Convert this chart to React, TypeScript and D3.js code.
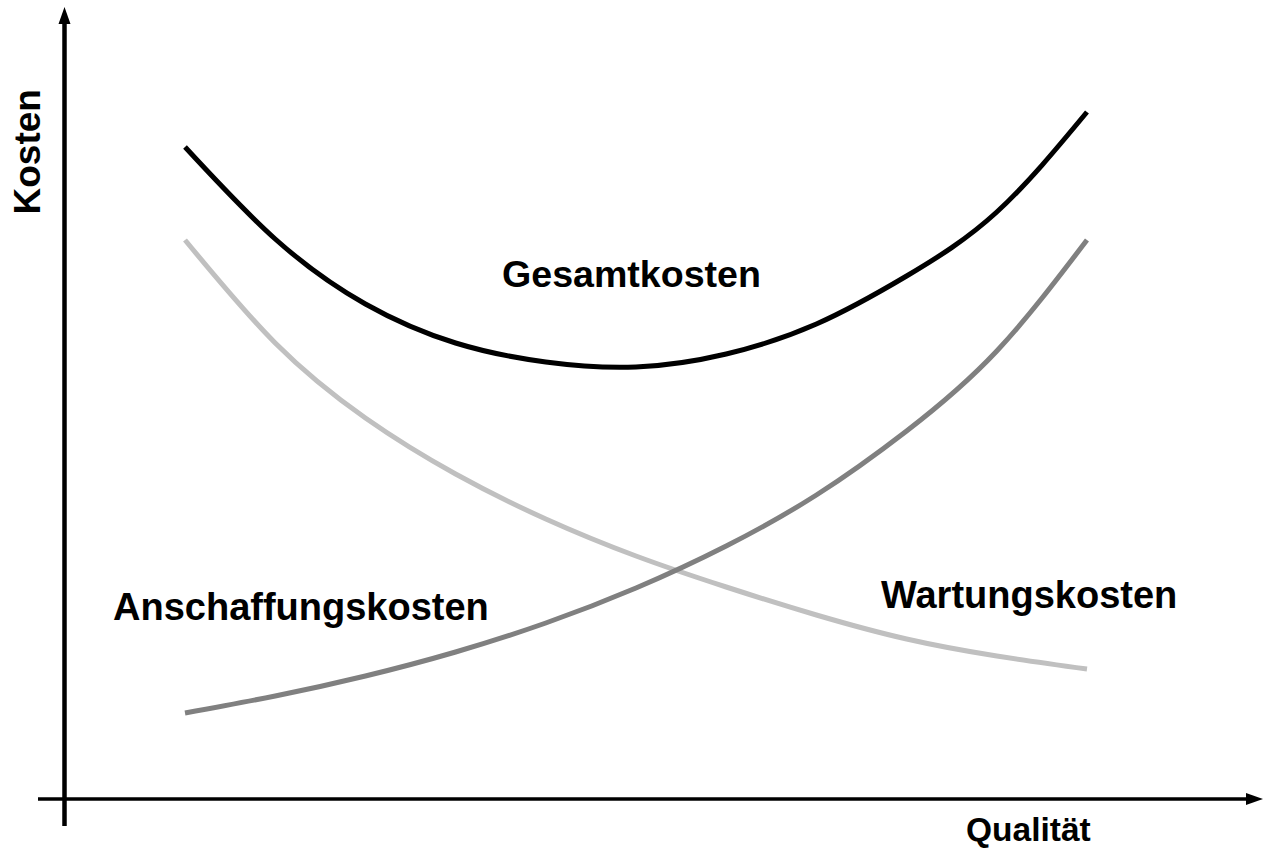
import React from "react";
import * as d3 from "d3";

const quality = [0, 1, 2, 3, 4, 5, 6, 7, 8, 9, 10];
const gesamtkosten = [65.2, 56.0, 49.5, 45.6, 43.7, 43.2, 44.5, 47.5, 52.3, 58.7, 68.7];
const wartungskosten = [55.9, 45.6, 38.1, 32.5, 28.0, 24.3, 21.2, 18.4, 16.0, 14.3, 13.0];
const anschaffungskosten = [8.6, 10.3, 12.3, 14.7, 17.6, 21.1, 25.3, 30.4, 36.8, 44.8, 55.9];

const seriesLabels = ["Gesamtkosten", "Anschaffungskosten", "Wartungskosten"];
const xAxisLabel = "Qualität";
const yAxisLabel = "Kosten";

export default function App() {
  const W = 1270;
  const H = 855;
  const x = d3.scaleLinear().domain([0, 10]).range([185, 1087]);
  const y = d3.scaleLinear().domain([0, 79.9]).range([799, 0]);

  const line = d3
    .line<number>()
    .x((_, i) => x(quality[i]))
    .y((d) => y(d))
    .curve(d3.curveNatural);

  const axisX0 = 64.5;
  const axisY0 = y(0);
  const font = "'Liberation Sans', Arial, sans-serif";

  return (
    <svg
      width={W}
      height={H}
      style={{ position: "absolute", left: 0, top: 0, background: "#fff" }}
      fontFamily={font}
    >
      <rect x={0} y={0} width={W} height={H} fill="#fff" />
      {/* axes */}
      <line x1={axisX0} y1={826} x2={axisX0} y2={20} stroke="#000" strokeWidth={4.5} />
      <path d={`M${axisX0 - 6},24 L${axisX0},7 L${axisX0 + 6},24 Z`} fill="#000" />
      <line x1={38} y1={axisY0} x2={1250} y2={axisY0} stroke="#000" strokeWidth={3.5} />
      <path d={`M1246,${axisY0 - 6} L1263,${axisY0} L1246,${axisY0 + 6} Z`} fill="#000" />

      {/* curves */}
      <path d={line(wartungskosten) || ""} fill="none" stroke="#c0c0c0" strokeWidth={5} />
      <path d={line(anschaffungskosten) || ""} fill="none" stroke="#808080" strokeWidth={5} />
      <path d={line(gesamtkosten) || ""} fill="none" stroke="#000" strokeWidth={5} />

      {/* labels */}
      <text x={502} y={287} fontSize={37.6} fontWeight="bold" fill="#000">
        {seriesLabels[0]}
      </text>
      <text x={113} y={620} fontSize={38} fontWeight="bold" fill="#000">
        {seriesLabels[1]}
      </text>
      <text x={881} y={608} fontSize={38} fontWeight="bold" fill="#000">
        {seriesLabels[2]}
      </text>
      <text x={966} y={841} fontSize={33.5} fontWeight="bold" fill="#000">
        {xAxisLabel}
      </text>
      <text
        transform="translate(40,214.5) rotate(-90)"
        fontSize={37}
        fontWeight="bold"
        fill="#000"
      >
        {yAxisLabel}
      </text>
    </svg>
  );
}
